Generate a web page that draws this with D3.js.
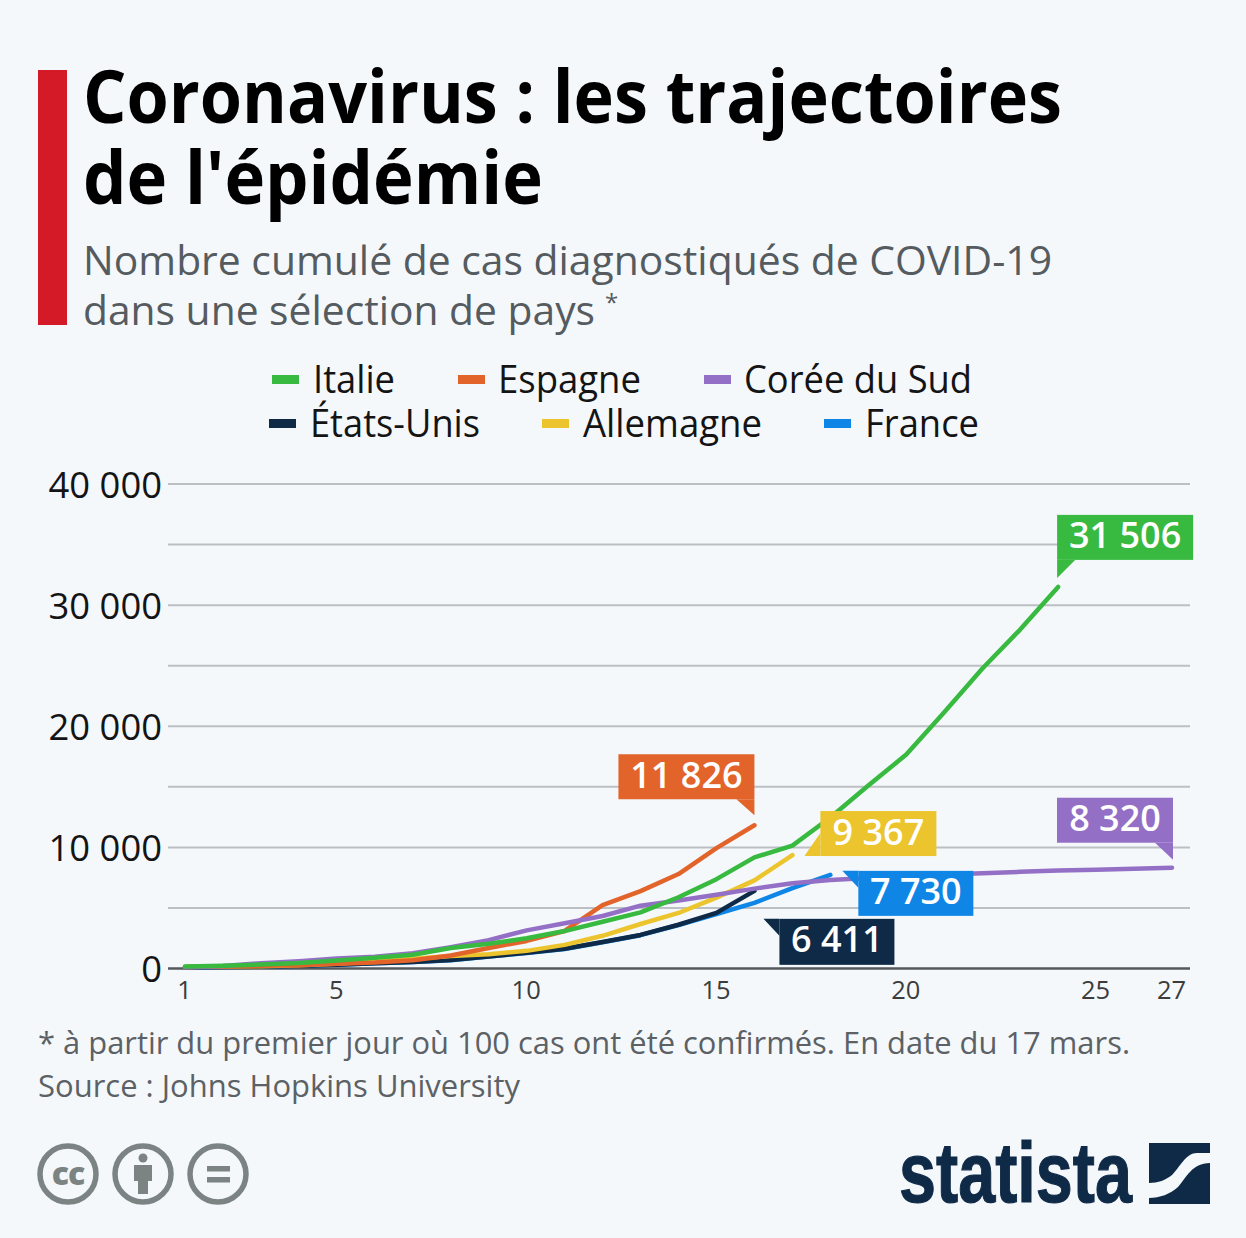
<!DOCTYPE html>
<html>
<head>
<meta charset="utf-8">
<script src="https://cdn.jsdelivr.net/npm/d3@7"></script>
<style>
    html, body { margin: 0; padding: 0; background: #f4f8fb; }
    svg { display: block; }
    text { font-family: "Open Sans", sans-serif; }
</style>
</head>
<body>
<div id="chart"></div>
<script>
    const days = d3.range(1, 28);
    const xTicks = [1, 5, 10, 15, 20, 25, 27];
    const yTicks = [0, 10000, 20000, 30000, 40000];
    const gridTicks = [5000, 10000, 15000, 20000, 25000, 30000, 35000, 40000];

    const france = [100, 124, 158, 221, 319, 430, 530, 690, 980, 1280, 1610, 2160, 2750, 3590, 4500, 5423, 6633, 7730];
    const usa = [100, 124, 158, 221, 319, 435, 541, 704, 994, 1301, 1630, 2183, 2770, 3613, 4596, 6411];
    const germany = [130, 159, 196, 262, 400, 600, 799, 1040, 1176, 1457, 1950, 2700, 3675, 4585, 5850, 7272, 9367];
    const spain = [120, 165, 222, 259, 400, 500, 673, 1073, 1695, 2277, 3100, 5232, 6391, 7798, 9942, 11826];
    const korea = [104, 204, 433, 602, 833, 977, 1261, 1766, 2337, 3150, 3736, 4335, 5186, 5621, 6088, 6593, 7041, 7314, 7478, 7513, 7755, 7869, 7979, 8086, 8162, 8236, 8320];
    const italy = [155, 229, 322, 453, 655, 888, 1128, 1694, 2036, 2502, 3089, 3858, 4636, 5883, 7375, 9172, 10149, 12462, 15113, 17660, 21157, 24747, 27980, 31506];

    const legendRows = [['Italie', 'Espagne', 'Corée du Sud'], ['États-Unis', 'Allemagne', 'France']];

    const colors = {
        'Italie': '#38b93f', 'Espagne': '#e2642b', 'Corée du Sud': '#946fc6',
        'États-Unis': '#0f2a47', 'Allemagne': '#ecc42d', 'France': '#0f86e6'
    };

    // drawing order, last one on top
    const seriesList = [
        {name: 'France', values: france},
        {name: 'États-Unis', values: usa},
        {name: 'Allemagne', values: germany},
        {name: 'Espagne', values: spain},
        {name: 'Corée du Sud', values: korea},
        {name: 'Italie', values: italy}
    ];

    const width = 1246, height = 1238;
    const svg = d3.select('#chart').append('svg')
        .attr('width', width).attr('height', height);

    const frFormat = d3.formatLocale({decimal: ',', thousands: ' ', grouping: [3], currency: ['', '€']}).format(',d');

    function fitText(sel, x, y, w, size, fill, weight, str) {
        return sel.append('text')
            .attr('x', x).attr('y', y)
            .attr('textLength', w).attr('lengthAdjust', 'spacingAndGlyphs')
            .attr('font-size', size).attr('font-weight', weight).attr('fill', fill)
            .text(str);
    }

    // header
    svg.append('rect').attr('x', 38).attr('y', 70).attr('width', 29).attr('height', 255).attr('fill', '#d31a26');
    fitText(svg, 83, 123, 979, 74, '#000', 700, 'Coronavirus : les trajectoires');
    fitText(svg, 83, 204, 460, 74, '#000', 700, "de l'épidémie");
    fitText(svg, 83, 275, 969, 41, '#555b5f', 400, 'Nombre cumulé de cas diagnostiqués de COVID-19');
    fitText(svg, 83, 325, 512, 41, '#555b5f', 400, 'dans une sélection de pays');
    svg.append('text').attr('x', 605).attr('y', 311).attr('font-size', 24).attr('fill', '#555b5f').text('*');

    // legend
    const legendPos = [[[272, 313, 82], [458, 498, 143], [704, 744, 228]], [[269, 310, 170], [542, 583, 179], [824, 865, 114]]];
    legendRows.forEach((row, r) => {
        const base = 393 + r * 44;
        row.forEach((name, i) => {
            const [sx, tx, tw] = legendPos[r][i];
            svg.append('rect').attr('x', sx).attr('y', base - 18).attr('width', 27).attr('height', 9).attr('fill', colors[name]);
            fitText(svg, tx, base, tw, 38, '#141414', 400, name);
        });
    });

    // chart
    const x = d3.scaleLinear().domain([1, 27]).range([185, 1172]);
    const y = d3.scaleLinear().domain([0, 40000]).range([968.5, 484]);

    svg.append('g').selectAll('line').data(gridTicks).join('line')
        .attr('x1', 168).attr('x2', 1190)
        .attr('y1', d => y(d)).attr('y2', d => y(d))
        .attr('stroke', '#bcc0c4').attr('stroke-width', 2);

    const yAxis = svg.append('g').attr('transform', 'translate(168,0)')
        .call(d3.axisLeft(y).tickValues(yTicks).tickFormat(frFormat).tickSize(0).tickPadding(6));
    yAxis.select('.domain').remove();
    yAxis.selectAll('text').attr('font-size', 36.4).attr('fill', '#141414').attr('dy', '0.36em')
        .attr('font-family', '"Open Sans", sans-serif');

    const xAxis = svg.append('g').attr('transform', 'translate(-1,968.5)')
        .call(d3.axisBottom(x).tickValues(xTicks).tickFormat(d3.format('d')).tickSize(0).tickPadding(12));
    xAxis.select('.domain').remove();
    xAxis.selectAll('text').attr('font-size', 25.5).attr('fill', '#3c3c3c')
        .attr('font-family', '"Open Sans", sans-serif');

    svg.append('line').attr('x1', 168).attr('x2', 1190).attr('y1', y(0)).attr('y2', y(0))
        .attr('stroke', '#55595c').attr('stroke-width', 2.5);

    const line = d3.line().x((d, i) => x(days[i])).y(d => y(d));
    svg.append('g').selectAll('path').data(seriesList).join('path')
        .attr('d', d => line(d.values))
        .attr('fill', 'none')
        .attr('stroke', d => colors[d.name])
        .attr('stroke-width', 4.5)
        .attr('stroke-linecap', 'round')
        .attr('stroke-linejoin', 'round');

    // callouts, offsets from the last point of the series
    const callouts = [
        {name: 'Espagne', values: spain, box: [-136, -71, 136, 45], tip: [[0, -26], [0, -10], [-18, -26]]},
        {name: 'Allemagne', values: germany, box: [28, -44, 116, 45], tip: [[28, -22], [28, 1], [12, 1]]},
        {name: 'États-Unis', values: usa, box: [25, 28, 115, 46], tip: [[25, 28], [25, 45], [9, 28]]},
        {name: 'France', values: france, box: [28, -4, 115, 45], tip: [[28, -4], [28, 13], [12, -4]]},
        {name: 'Corée du Sud', values: korea, box: [-115, -70, 116, 45], tip: [[1, -25], [1, -8], [-17, -25]]},
        {name: 'Italie', values: italy, box: [-1, -72, 136, 45], tip: [[-1, -27], [-1, -9], [17, -27]]}
    ];
    callouts.forEach(c => {
        const n = c.values.length;
        const px = x(days[n - 1]), py = y(c.values[n - 1]);
        const g = svg.append('g').attr('transform', `translate(${px},${py})`);
        g.append('path').attr('d', d3.line()(c.tip) + 'Z').attr('fill', colors[c.name]);
        g.append('rect').attr('x', c.box[0]).attr('y', c.box[1])
            .attr('width', c.box[2]).attr('height', c.box[3]).attr('fill', colors[c.name]);
        g.append('text').attr('x', c.box[0] + c.box[2] / 2).attr('y', c.box[1] + 33.5)
            .attr('text-anchor', 'middle').attr('font-size', 36).attr('font-weight', 600)
            .attr('fill', '#fff').text(frFormat(c.values[n - 1]));
    });

    // footer
    fitText(svg, 38, 1054, 1092, 31, '#5c6165', 400, '* à partir du premier jour où 100 cas ont été confirmés. En date du 17 mars.');
    fitText(svg, 38, 1097, 482, 31, '#5c6165', 400, 'Source : Johns Hopkins University');

    // licence icons
    const grey = '#7c8383';
    const icons = svg.append('g');
    [68, 143, 218].forEach(cx => {
        icons.append('circle').attr('cx', cx).attr('cy', 1174).attr('r', 28)
            .attr('fill', 'none').attr('stroke', grey).attr('stroke-width', 5.5);
    });
    icons.append('text').attr('x', 68).attr('y', 1185).attr('text-anchor', 'middle')
        .attr('font-size', 32).attr('font-weight', 800).attr('fill', grey).attr('letter-spacing', -1).text('cc');
    icons.append('circle').attr('cx', 143).attr('cy', 1158).attr('r', 4.5).attr('fill', grey);
    icons.append('path').attr('fill', grey)
        .attr('d', 'M134,1165h18v16h-4v13h-10v-13h-4z');
    icons.append('rect').attr('x', 207).attr('y', 1166).attr('width', 23).attr('height', 5.5).attr('fill', grey);
    icons.append('rect').attr('x', 207).attr('y', 1177).attr('width', 23).attr('height', 5.5).attr('fill', grey);

    // logo
    const navy = '#0f2a47';
    svg.append('text').attr('x', 899).attr('y', 1202)
        .attr('textLength', 233).attr('lengthAdjust', 'spacingAndGlyphs')
        .attr('font-size', 86).attr('font-weight', 700).attr('fill', navy)
        .attr('stroke', navy).attr('stroke-width', 1.2)
        .style('font-family', '"Liberation Sans Narrow", sans-serif').text('statista');
    svg.append('path').attr('fill', navy)
        .attr('d', 'M1149,1143H1210V1153H1197C1186,1153 1180,1167 1172,1175C1166,1180 1158,1183 1149,1183Z');
    svg.append('path').attr('fill', navy)
        .attr('d', 'M1210,1163V1204H1149V1198C1160,1198 1170,1194 1178,1187C1186,1178 1192,1163 1210,1163Z');
</script>
</body>
</html>
